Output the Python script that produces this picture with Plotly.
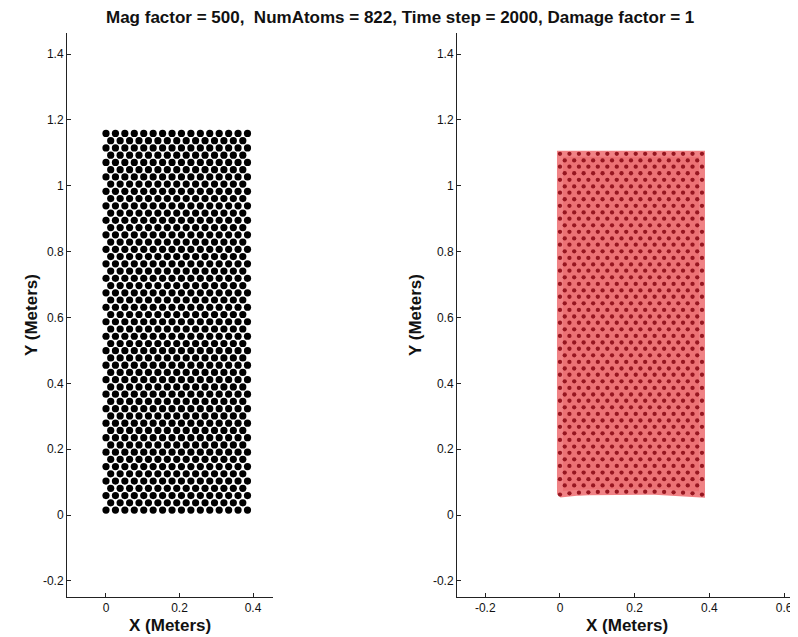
import plotly.graph_objects as go

# ---------------- data ----------------
title_text = "Mag factor = 500,  NumAtoms = 822, Time step = 2000, Damage factor = 1"
x_label = "X (Meters)"
y_label = "Y (Meters)"

# Left panel (undeformed lattice): row heights, x of full rows (16 atoms) and offset rows (15 atoms)
left_row_y = [0.015, 0.037, 0.059, 0.081, 0.103, 0.125, 0.147, 0.169, 0.191, 0.213,
              0.235, 0.257, 0.279, 0.301, 0.323, 0.345, 0.367, 0.389, 0.411, 0.433,
              0.455, 0.477, 0.499, 0.521, 0.543, 0.565, 0.587, 0.609, 0.631, 0.653,
              0.675, 0.697, 0.719, 0.741, 0.763, 0.785, 0.807, 0.829, 0.851, 0.873,
              0.895, 0.917, 0.939, 0.961, 0.983, 1.005, 1.027, 1.049, 1.071, 1.093,
              1.115, 1.137, 1.159]
left_full_x = [0.0, 0.0257, 0.0513, 0.077, 0.1027, 0.1283, 0.154, 0.1797, 0.2053, 0.231,
               0.2567, 0.2823, 0.308, 0.3337, 0.3593, 0.385]
left_half_x = [0.0128, 0.0385, 0.0642, 0.0898, 0.1155, 0.1412, 0.1668, 0.1925, 0.2182,
               0.2438, 0.2695, 0.2952, 0.3208, 0.3465, 0.3722]

# Right panel (deformed lattice)
right_row_y = [0.070, 0.090, 0.109, 0.129, 0.149, 0.169, 0.189, 0.208, 0.228, 0.248,
               0.268, 0.287, 0.307, 0.327, 0.347, 0.366, 0.386, 0.406, 0.426, 0.445,
               0.465, 0.485, 0.505, 0.524, 0.544, 0.564, 0.584, 0.603, 0.623, 0.643,
               0.663, 0.682, 0.702, 0.722, 0.742, 0.761, 0.781, 0.801, 0.821, 0.840,
               0.860, 0.880, 0.900, 0.919, 0.939, 0.959, 0.979, 0.998, 1.018, 1.038,
               1.058, 1.077, 1.097]
right_full_x = [0.0, 0.0253, 0.0507, 0.076, 0.1013, 0.1267, 0.152, 0.1773, 0.2027, 0.228,
                0.2533, 0.2787, 0.304, 0.3293, 0.3547, 0.38]
right_half_x = [0.0127, 0.038, 0.0633, 0.0887, 0.114, 0.1393, 0.1647, 0.19, 0.2153,
                0.2407, 0.266, 0.2913, 0.3167, 0.342, 0.3673]
right_bottom_row_y = [0.062, 0.066, 0.068, 0.069, 0.070, 0.071, 0.071, 0.071, 0.071,
                      0.071, 0.071, 0.070, 0.069, 0.068, 0.066, 0.062]

tick_vals_x_left = [0, 0.2, 0.4]
tick_text_x_left = ["0", "0.2", "0.4"]
tick_vals_x_right = [-0.2, 0, 0.2, 0.4, 0.6]
tick_text_x_right = ["-0.2", "0", "0.2", "0.4", "0.6"]
tick_vals_y = [-0.2, 0, 0.2, 0.4, 0.6, 0.8, 1, 1.2, 1.4]
tick_text_y = ["-0.2", "0", "0.2", "0.4", "0.6", "0.8", "1", "1.2", "1.4"]


def lattice(rows, full_x, half_x, bottom_override=None):
    xs, ys = [], []
    for i, y in enumerate(rows):
        cols = full_x if i % 2 == 0 else half_x
        for j, x in enumerate(cols):
            xs.append(x)
            if i == 0 and bottom_override is not None:
                ys.append(bottom_override[j])
            else:
                ys.append(y)
    return xs, ys


lx, ly = lattice(left_row_y, left_full_x, left_half_x)
rx, ry = lattice(right_row_y, right_full_x, right_half_x, right_bottom_row_y)

fig = go.Figure()

fig.add_trace(go.Scatter(
    x=lx, y=ly, mode="markers", xaxis="x", yaxis="y",
    marker=dict(size=7.2, color="black", line=dict(width=0)),
    hoverinfo="skip", showlegend=False))

# red filled body of the deformed specimen
hull_x = right_full_x + [right_full_x[-1], right_full_x[0], right_full_x[0]]
hull_y = right_bottom_row_y + [right_row_y[-1], right_row_y[-1], right_bottom_row_y[0]]
fig.add_trace(go.Scatter(
    x=hull_x, y=hull_y, mode="lines", fill="toself", xaxis="x2", yaxis="y2",
    fillcolor="rgb(236,114,117)", line=dict(color="rgb(240,130,133)", width=6),
    hoverinfo="skip", showlegend=False))
fig.add_trace(go.Scatter(
    x=rx, y=ry, mode="markers", xaxis="x2", yaxis="y2",
    marker=dict(size=4.3, color="rgb(150,22,32)", line=dict(width=0)),
    hoverinfo="skip", showlegend=False))

# The page body has an 8px margin: the figure starts at page pixel (8, 8)
OFF = 8
W, H = 798 - OFF, 637 - OFF


def px(p):
    return (p - OFF) / W


def py(p):
    return 1 - (p - OFF) / H


FONT = "Liberation Sans, Arial, Helvetica"
axis_common = dict(showline=True, linecolor="#222", linewidth=1, mirror=False,
                   ticks="inside", ticklen=4, tickcolor="#222", showgrid=False,
                   zeroline=False, tickfont=dict(family=FONT, size=12, color="#111"))

y_dom = [py(597), py(33)]

fig.update_layout(
    width=W, height=H, margin=dict(l=0, r=0, t=0, b=0),
    paper_bgcolor="white", plot_bgcolor="white",
    xaxis=dict(domain=[px(67), px(273)], range=[-0.1061, 0.4544], anchor="y",
               tickvals=tick_vals_x_left, ticktext=tick_text_x_left, **axis_common),
    yaxis=dict(domain=y_dom, range=[-0.249, 1.464], anchor="x",
               tickvals=tick_vals_y, ticktext=tick_text_y, **axis_common),
    xaxis2=dict(domain=[px(457), 1.0], range=[-0.2756, 0.637], anchor="y2",
                tickvals=tick_vals_x_right, ticktext=tick_text_x_right, **axis_common),
    yaxis2=dict(domain=y_dom, range=[-0.249, 1.464], anchor="x2",
                tickvals=tick_vals_y, ticktext=tick_text_y, **axis_common),
)

label_font = dict(family=FONT, size=17, color="#111")
annots = [
    dict(text="<b>" + title_text + "</b>", x=px(400), y=py(17),
         font=dict(family=FONT, size=17, color="#111")),
    dict(text="<b>" + x_label + "</b>", x=px(170), y=py(625), font=label_font),
    dict(text="<b>" + x_label + "</b>", x=px(627), y=py(625), font=label_font),
    dict(text="<b>" + y_label + "</b>", x=px(31), y=py(315), font=label_font, textangle=-90),
    dict(text="<b>" + y_label + "</b>", x=px(415), y=py(315), font=label_font, textangle=-90),
]
for a in annots:
    a.update(xref="paper", yref="paper", showarrow=False, xanchor="center", yanchor="middle")
fig.update_layout(annotations=annots)

fig.write_html("out.html")
